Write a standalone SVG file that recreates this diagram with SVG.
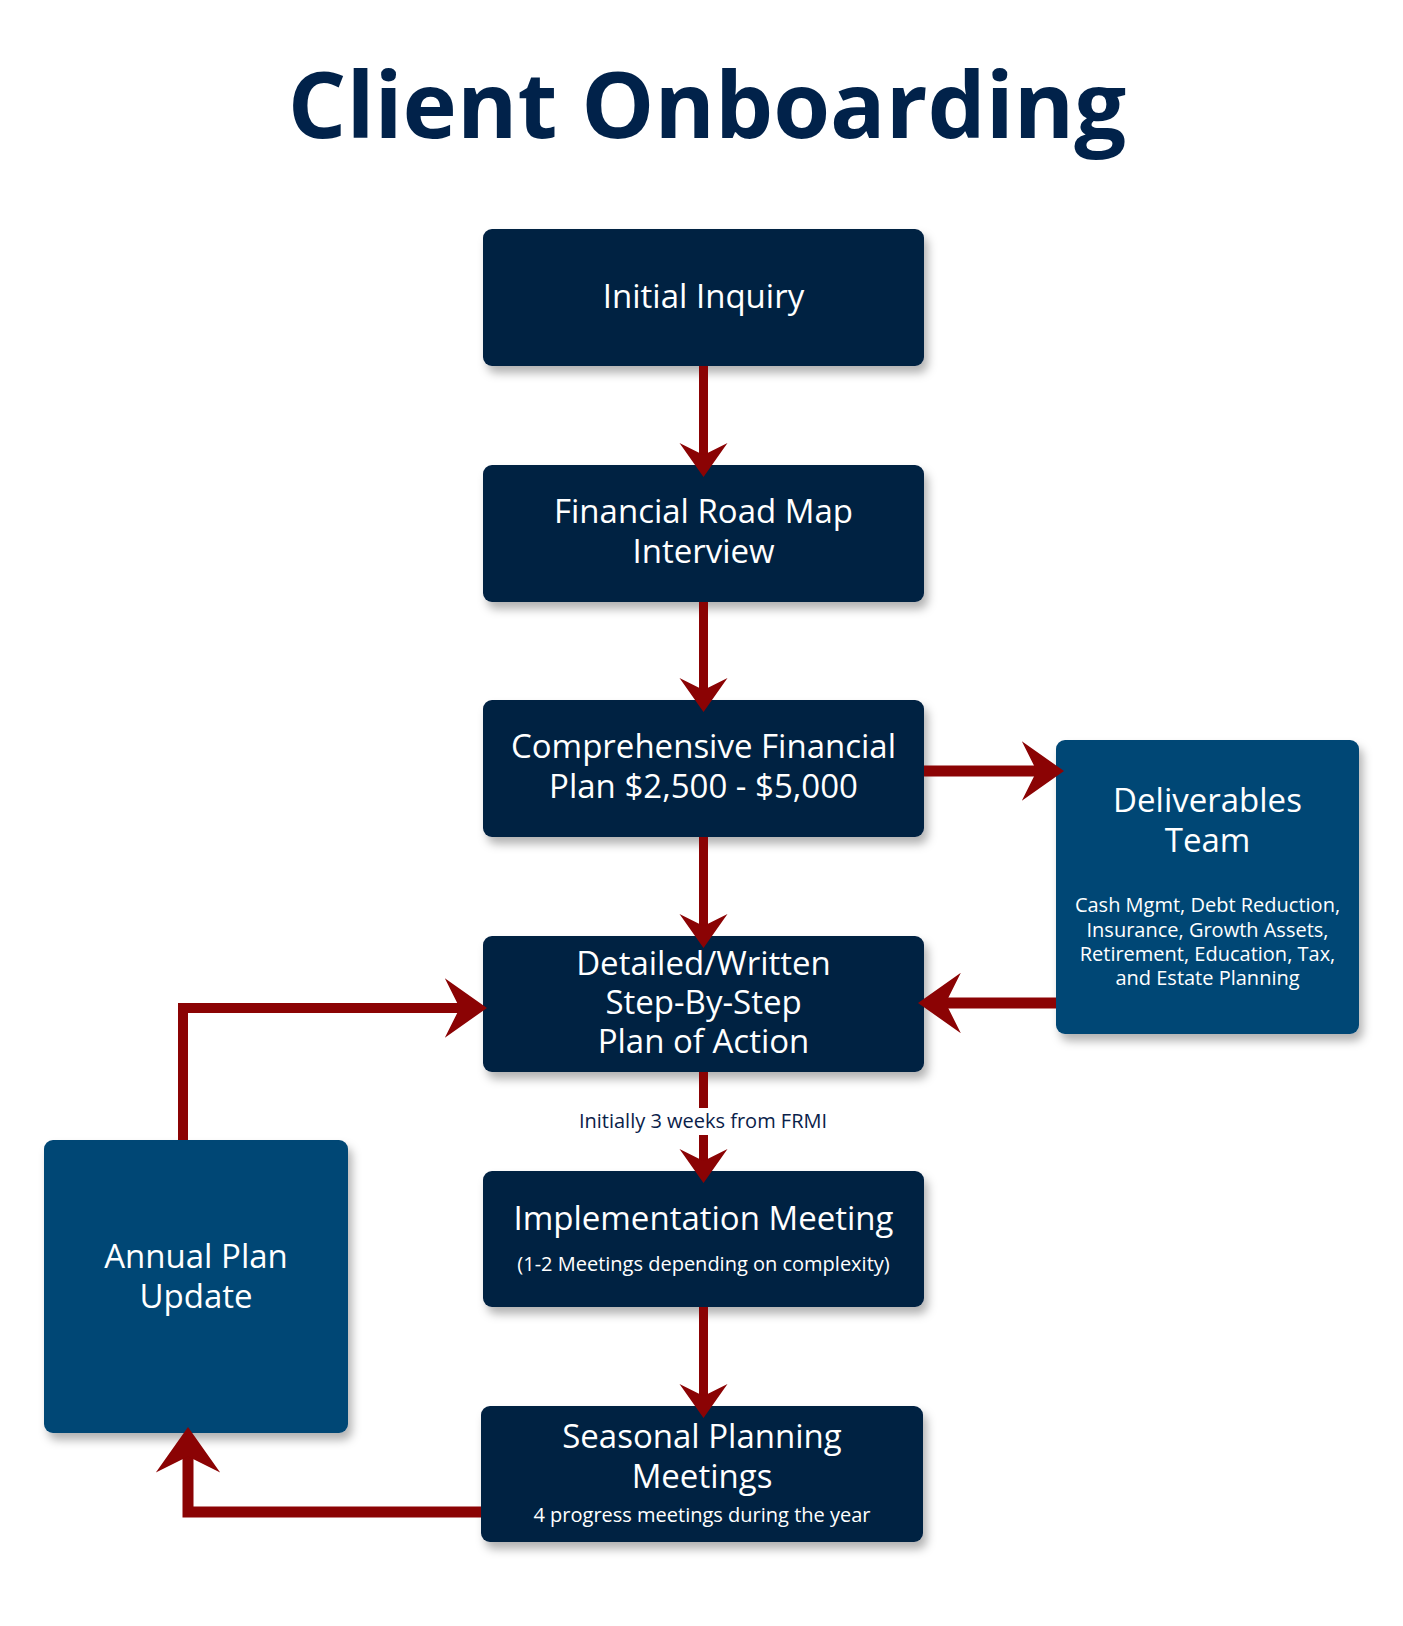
<svg xmlns="http://www.w3.org/2000/svg" xmlns:xlink="http://www.w3.org/1999/xlink" width="1403" height="1626" viewBox="0 0 1403 1626">
<style>
.t{font-family:"Open Sans","Noto Sans","Liberation Sans",sans-serif;fill:#ffffff;text-anchor:middle}
.big{font-size:33px}
.small{font-size:20px}
.title{font-family:"Open Sans","Noto Sans","Liberation Sans",sans-serif;font-weight:bold;font-size:92px;fill:#01224A;text-anchor:middle}
.lbl{font-family:"Open Sans","Noto Sans","Liberation Sans",sans-serif;font-size:20px;fill:#0A2149;text-anchor:middle}
.navy{fill:#022043}
.blue{fill:#024775}
.ln{fill:none;stroke:#8B0304;stroke-width:9}
.ah{fill:#8B0304}
</style>
<defs>
<filter id="sh" x="-10%" y="-10%" width="130%" height="140%">
<feDropShadow dx="4" dy="7" stdDeviation="5" flood-color="#000000" flood-opacity="0.3"/>
</filter>
<polygon id="ah" points="0,0 -34,-24 -22,0 -34,24"/>
</defs>
<rect width="1403" height="1626" fill="#ffffff"/>
<text class="title" x="707" y="138">Client Onboarding</text>

<g id="n1"><rect class="navy" x="483" y="229" width="441" height="137" rx="9" filter="url(#sh)"/>
<text class="t big" x="703.5" y="308">Initial Inquiry</text></g>

<g id="n2"><rect class="navy" x="483" y="465" width="441" height="137" rx="9" filter="url(#sh)"/>
<text class="t big" x="703.5" y="523">Financial Road Map</text>
<text class="t big" x="703.5" y="563">Interview</text></g>

<g id="n3"><rect class="navy" x="483" y="700" width="441" height="137" rx="9" filter="url(#sh)"/>
<text class="t big" x="703.5" y="758">Comprehensive Financial</text>
<text class="t big" x="703.5" y="798">Plan $2,500 - $5,000</text></g>

<g id="n4"><rect class="navy" x="483" y="936" width="441" height="136" rx="9" filter="url(#sh)"/>
<text class="t big" x="703.5" y="975">Detailed/Written</text>
<text class="t big" x="703.5" y="1014">Step-By-Step</text>
<text class="t big" x="703.5" y="1053">Plan of Action</text></g>

<g id="n5"><rect class="navy" x="483" y="1171" width="441" height="136" rx="9" filter="url(#sh)"/>
<text class="t big" x="703.5" y="1230">Implementation Meeting</text>
<text class="t small" x="703.5" y="1271">(1-2 Meetings depending on complexity)</text></g>

<g id="n6"><rect class="navy" x="481" y="1406" width="442" height="136" rx="9" filter="url(#sh)"/>
<text class="t big" x="702" y="1448">Seasonal Planning</text>
<text class="t big" x="702" y="1488">Meetings</text>
<text class="t small" x="702" y="1522">4 progress meetings during the year</text></g>

<g id="n7"><rect class="blue" x="1056" y="740" width="303" height="294" rx="9" filter="url(#sh)"/>
<text class="t big" x="1207.5" y="812">Deliverables</text>
<text class="t big" x="1207.5" y="852">Team</text>
<text class="t small" x="1207.5" y="912">Cash Mgmt, Debt Reduction,</text>
<text class="t small" x="1207.5" y="937">Insurance, Growth Assets,</text>
<text class="t small" x="1207.5" y="961">Retirement, Education, Tax,</text>
<text class="t small" x="1207.5" y="985">and Estate Planning</text></g>

<g id="n8"><rect class="blue" x="44" y="1140" width="304" height="293" rx="9" filter="url(#sh)"/>
<text class="t big" x="196" y="1268">Annual Plan</text>
<text class="t big" x="196" y="1308">Update</text></g>

<g id="connectors">
<path class="ln" d="M703.5,366 V460"/>
<use xlink:href="#ah" class="ah" transform="translate(703.5,477) rotate(90)"/>
<path class="ln" d="M703.5,602 V695"/>
<use xlink:href="#ah" class="ah" transform="translate(703.5,712) rotate(90)"/>
<path class="ln" d="M703.5,837 V931"/>
<use xlink:href="#ah" class="ah" transform="translate(703.5,948) rotate(90)"/>
<path class="ln" d="M703.5,1072 V1108 M703.5,1135 V1166"/>
<use xlink:href="#ah" class="ah" transform="translate(703.5,1183) rotate(90)"/>
<text class="lbl" x="703" y="1128">Initially 3 weeks from FRMI</text>
<path class="ln" d="M703.5,1307 V1401"/>
<use xlink:href="#ah" class="ah" transform="translate(703.5,1418) rotate(90)"/>
<path class="ln" style="stroke-width:11" d="M924,771 H1043"/>
<use xlink:href="#ah" class="ah" transform="translate(1064,771) scale(1.24)"/>
<path class="ln" style="stroke-width:11" d="M1056,1003 H938"/>
<use xlink:href="#ah" class="ah" transform="translate(918,1003) rotate(180) scale(1.26)"/>
<path class="ln" style="stroke-width:10" d="M183,1140 V1008 H468"/>
<use xlink:href="#ah" class="ah" transform="translate(487,1008) scale(1.24)"/>
<path class="ln" style="stroke-width:11" d="M481,1512 H188 V1447"/>
<use xlink:href="#ah" class="ah" transform="translate(188,1427) rotate(-90) scale(1.34)"/>
</g>
</svg>
